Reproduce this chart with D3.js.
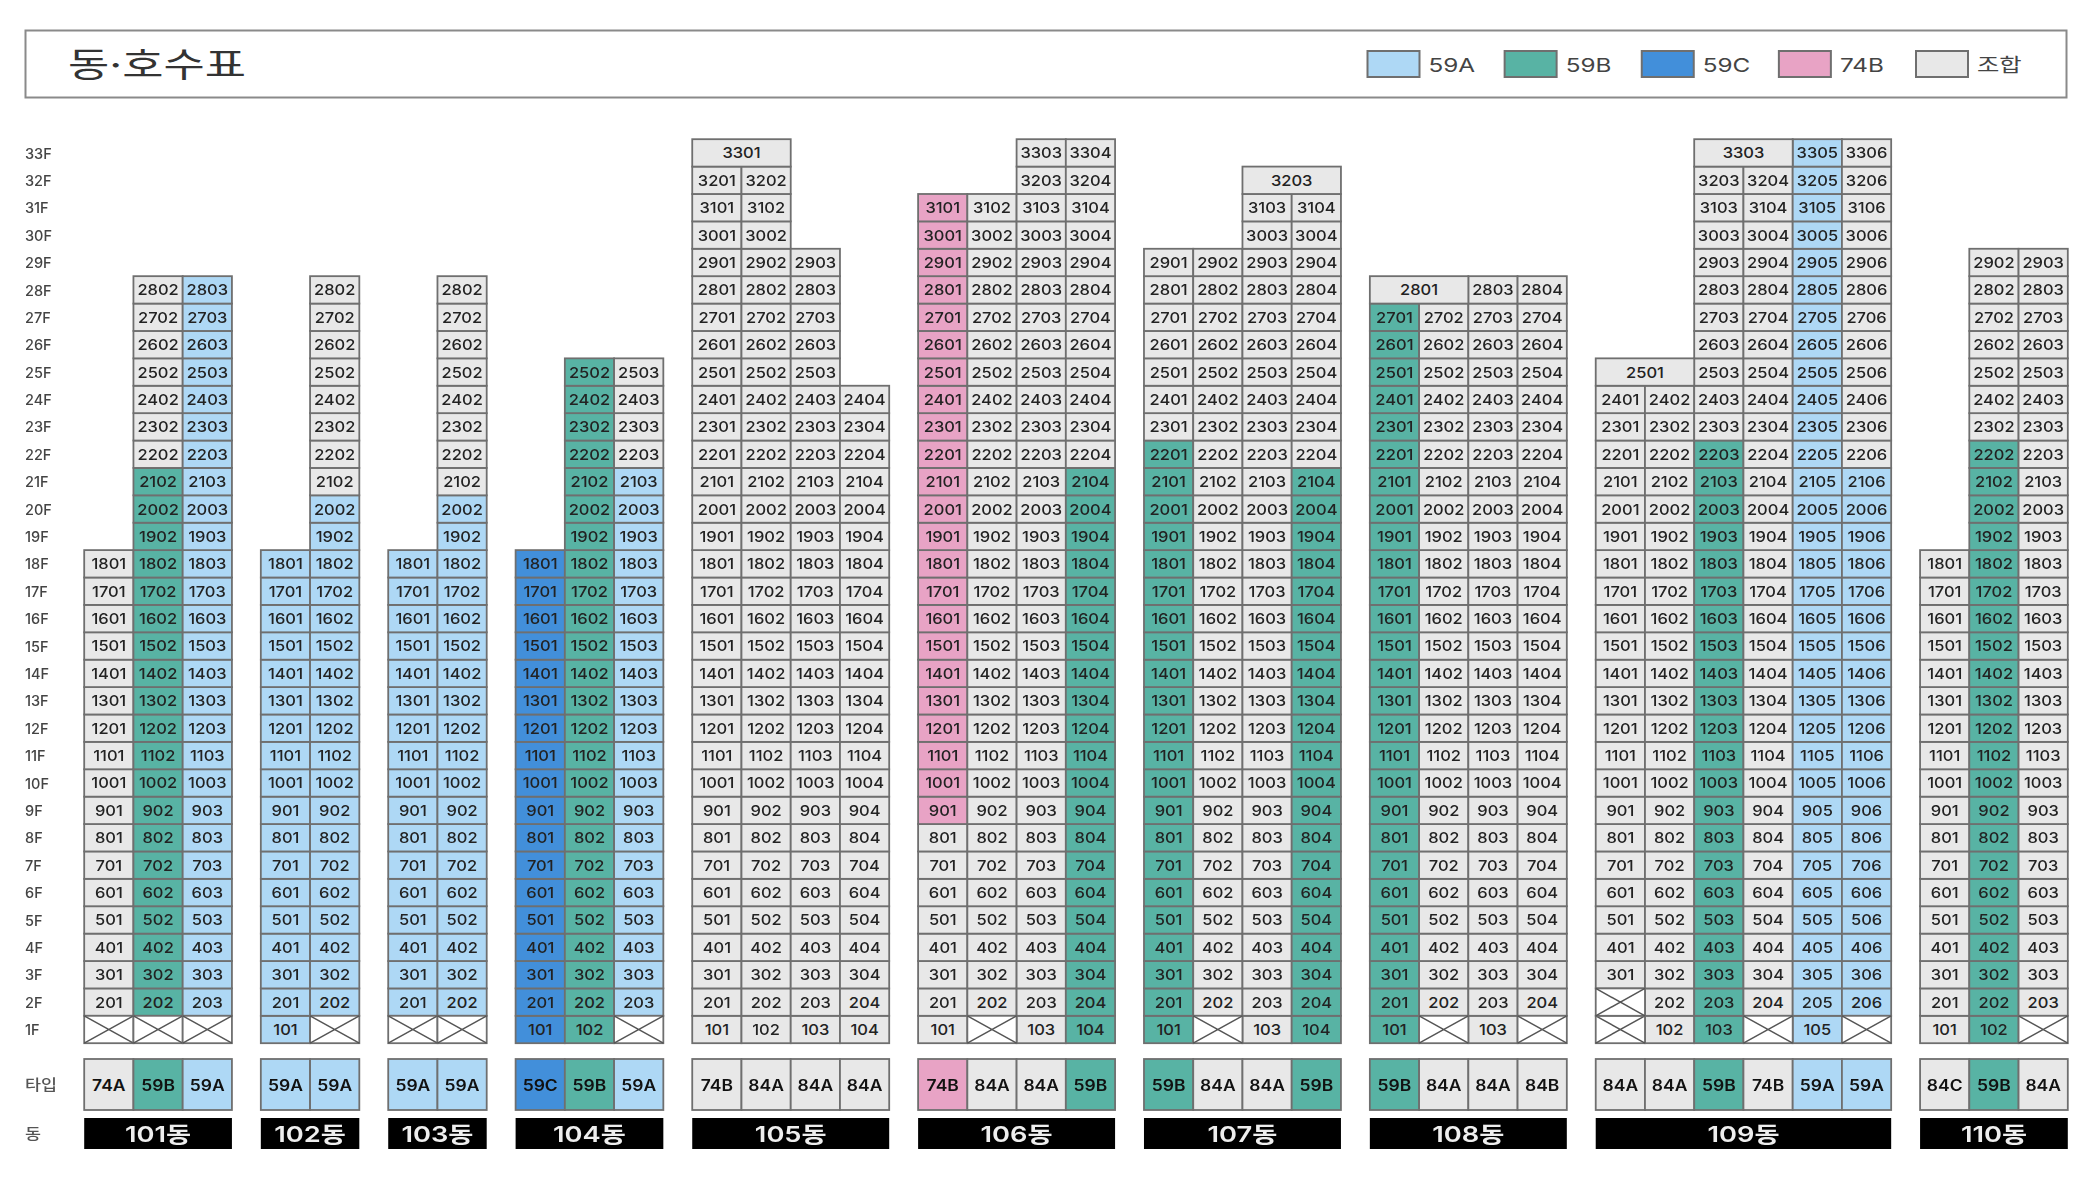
<!DOCTYPE html>
<html lang="ko">
<head>
<meta charset="utf-8">
<script src="https://cdn.jsdelivr.net/npm/d3@7"></script>
<style>
  html, body { margin: 0; background: #fff; }
  svg { display: block; filter: blur(0.55px); }
  text { font-family: Inter, "Noto Sans CJK KR", sans-serif; fill: #222; }
</style>
</head>
<body>
<svg id="chart" width="2096" height="1178"></svg>
<script>
const buildings = ['101동', '102동', '103동', '104동', '105동', '106동', '107동', '108동', '109동', '110동'];

const unitTypes = [
  ['74A', '59B', '59A'],
  ['59A', '59A'],
  ['59A', '59A'],
  ['59C', '59B', '59A'],
  ['74B', '84A', '84A', '84A'],
  ['74B', '84A', '84A', '59B'],
  ['59B', '84A', '84A', '59B'],
  ['59B', '84A', '84A', '84B'],
  ['84A', '84A', '59B', '74B', '59A', '59A'],
  ['84C', '59B', '84A']
];

// 타입 이름은 74B여도 회색으로 칠해진 칸 [동 순서, 라인 순서]
const plainTypeCells = [[4, 0], [8, 3]];

// 라인별 층 구간 [시작층, 끝층, 타입]
const stacks = [
  [[[2, 18, '조합']], [[2, 21, '59B'], [22, 28, '조합']], [[2, 28, '59A']]],
  [[[1, 18, '59A']], [[2, 20, '59A'], [21, 28, '조합']]],
  [[[2, 18, '59A']], [[2, 20, '59A'], [21, 28, '조합']]],
  [[[1, 18, '59C']], [[1, 25, '59B']], [[2, 21, '59A'], [22, 25, '조합']]],
  [[[1, 32, '조합']], [[1, 32, '조합']], [[1, 29, '조합']], [[1, 24, '조합']]],
  [[[1, 8, '조합'], [9, 31, '74B']], [[2, 31, '조합']], [[1, 33, '조합']], [[1, 21, '59B'], [22, 33, '조합']]],
  [[[1, 22, '59B'], [23, 29, '조합']], [[2, 29, '조합']], [[1, 31, '조합']], [[1, 21, '59B'], [22, 31, '조합']]],
  [[[1, 27, '59B']], [[2, 27, '조합']], [[1, 28, '조합']], [[2, 28, '조합']]],
  [[[3, 24, '조합']], [[1, 24, '조합']], [[1, 22, '59B'], [23, 32, '조합']], [[2, 32, '조합']], [[1, 33, '59A']], [[2, 21, '59A'], [22, 33, '조합']]],
  [[[1, 18, '조합']], [[1, 22, '59B'], [23, 29, '조합']], [[2, 29, '조합']]]
];

// 세대 없는 칸 [동 순서, 라인 순서, 층]
const voids = [
  [0, 0, 1], [0, 1, 1], [0, 2, 1], [1, 1, 1], [2, 0, 1], [2, 1, 1], [3, 2, 1],
  [5, 1, 1], [6, 1, 1], [7, 1, 1], [7, 3, 1], [8, 0, 1], [8, 0, 2], [8, 3, 1], [8, 5, 1], [9, 2, 1]
];

// 두 라인을 합친 칸 [동 순서, 왼쪽 라인 순서, 층, 호수]
const merged = [
  [4, 0, 33, '3301'], [6, 2, 32, '3203'], [7, 0, 28, '2801'], [8, 0, 25, '2501'], [8, 2, 33, '3303']
];

const legendKeys = ['59A', '59B', '59C', '74B', '조합'];
const legendColors = ['#aed8f5', '#58b3a4', '#428fda', '#e8a3c5', '#e8e8e8'];

const fillOf = d3.scaleOrdinal().domain(legendKeys).range(legendColors).unknown('#e8e8e8');
const floors = d3.range(33, 0, -1);

const svg = d3.select('#chart');
const line = '#6f6f6f';

// 글자가 가로로 늘어난 원본에 맞추려고 scale 사용
function stretched(sel, sx) {
  return sel.attr('transform', function () {
    const t = d3.select(this);
    return `translate(${t.attr('data-x')},${t.attr('data-y')}) scale(${sx},1)`;
  });
}

// 헤더
svg.append('rect').attr('x', 25.5).attr('y', 30.5).attr('width', 2041).attr('height', 67)
  .attr('fill', '#fff').attr('stroke', '#8a8a8a').attr('stroke-width', 2);
svg.append('text').attr('data-x', 68).attr('data-y', 76.5)
  .attr('font-size', 34).attr('font-weight', 400).style('fill', '#333')
  .text('동·호수표').call(stretched, 1.32);

const legendX = d3.scalePoint().domain(legendKeys).range([1367.5, 1916]);
const legend = svg.append('g').selectAll('g').data(legendKeys).join('g');
legend.append('rect').attr('x', d => legendX(d)).attr('y', 51).attr('width', 52).attr('height', 26)
  .attr('fill', d => fillOf(d)).attr('stroke', '#6f6f6f').attr('stroke-width', 2);
legend.append('text').attr('data-x', d => legendX(d) + 61).attr('data-y', 71.5)
  .attr('font-size', 19).style('fill', '#444').text(d => d).call(stretched, 1.28);

// 층 축
const y = d3.scaleBand().domain(floors).range([139.2, 1043.2]);
svg.append('g').attr('transform', 'translate(25,1)')
  .call(d3.axisLeft(y).tickSize(0).tickFormat(d => d + 'F'))
  .call(g => g.select('.domain').remove())
  .selectAll('text')
  .attr('x', 0).attr('text-anchor', 'start').attr('font-size', 14.5).attr('font-weight', 500)
  .style('font-family', 'Inter').style('fill', '#444');

const rowTitles = [['타입', 1090], ['동', 1139]];
svg.append('g').selectAll('text').data(rowTitles).join('text')
  .attr('data-x', 25).attr('data-y', d => d[1])
  .attr('font-size', 14.5).attr('font-weight', 500).style('fill', '#555')
  .text(d => d[0]).call(stretched, 1.2);

// 동별 가로 위치
const gapUnits = 0.587;
const colCounts = unitTypes.map(t => t.length);
const starts = colCounts.map((_, i) => d3.sum(colCounts.slice(0, i)) + i * gapUnits);
const x = d3.scaleLinear().domain([0, d3.sum(colCounts) + gapUnits * (buildings.length - 1)]).range([84.2, 2067.8]);

const colX = (b, c) => x(starts[b] + c);
const colW = x(1) - x(0);

const units = [];
stacks.forEach((cols, b) => cols.forEach((runs, c) => runs.forEach(([from, to, type]) => {
  d3.range(from, to + 1).forEach(f => units.push({ b, c, f, type, span: 1, label: String(f * 100 + c + 1) }));
})));
merged.forEach(([b, c, f, label]) => units.push({ b, c, f, type: '조합', span: 2, label }));

const cells = svg.append('g').selectAll('g').data(units).join('g');
cells.append('rect')
  .attr('x', d => colX(d.b, d.c)).attr('y', d => y(d.f))
  .attr('width', d => colW * d.span).attr('height', y.bandwidth())
  .attr('fill', d => fillOf(d.type)).attr('stroke', line).attr('stroke-width', 1.8);
cells.append('text')
  .attr('data-x', d => colX(d.b, d.c) + colW * d.span / 2).attr('data-y', d => y(d.f) + y.bandwidth() / 2 + 5.5)
  .attr('text-anchor', 'middle').attr('font-size', 15).attr('font-weight', 500)
  .text(d => d.label).call(stretched, 1.1);

const crossed = svg.append('g').selectAll('g').data(voids).join('g');
crossed.append('rect')
  .attr('x', d => colX(d[0], d[1])).attr('y', d => y(d[2]))
  .attr('width', colW).attr('height', y.bandwidth())
  .attr('fill', '#fff').attr('stroke', line).attr('stroke-width', 1.8);
crossed.append('path')
  .attr('d', d => {
    const l = colX(d[0], d[1]), t = y(d[2]);
    return `M${l},${t}L${l + colW},${t + y.bandwidth()}M${l + colW},${t}L${l},${t + y.bandwidth()}`;
  })
  .attr('stroke', '#555').attr('stroke-width', 1.5).attr('fill', 'none');

// 타입 행
const isPlain = (b, c) => plainTypeCells.some(p => p[0] === b && p[1] === c);
const typeCells = [];
unitTypes.forEach((types, b) => types.forEach((type, c) => typeCells.push({ b, c, type })));
const typeRow = svg.append('g').selectAll('g').data(typeCells).join('g');
typeRow.append('rect')
  .attr('x', d => colX(d.b, d.c)).attr('y', 1059).attr('width', colW).attr('height', 51)
  .attr('fill', d => isPlain(d.b, d.c) ? fillOf('조합') : fillOf(d.type)).attr('stroke', line).attr('stroke-width', 1.8);
typeRow.append('text')
  .attr('data-x', d => colX(d.b, d.c) + colW / 2).attr('data-y', 1090.5)
  .attr('text-anchor', 'middle').attr('font-size', 15.5).attr('font-weight', 600).style('fill', '#111')
  .text(d => d.type).call(stretched, 1.13);

// 동 이름 행
const dongRow = svg.append('g').selectAll('g').data(buildings).join('g');
dongRow.append('rect')
  .attr('x', (d, i) => colX(i, 0)).attr('y', 1118).attr('width', (d, i) => colW * colCounts[i]).attr('height', 31)
  .attr('fill', '#000');
dongRow.append('text')
  .attr('data-x', (d, i) => colX(i, 0) + colW * colCounts[i] / 2).attr('data-y', 1141.5)
  .attr('text-anchor', 'middle').attr('font-size', 22).attr('font-weight', 600).style('fill', '#eee')
  .text(d => d).call(stretched, 1.24);
</script>
</body>
</html>
